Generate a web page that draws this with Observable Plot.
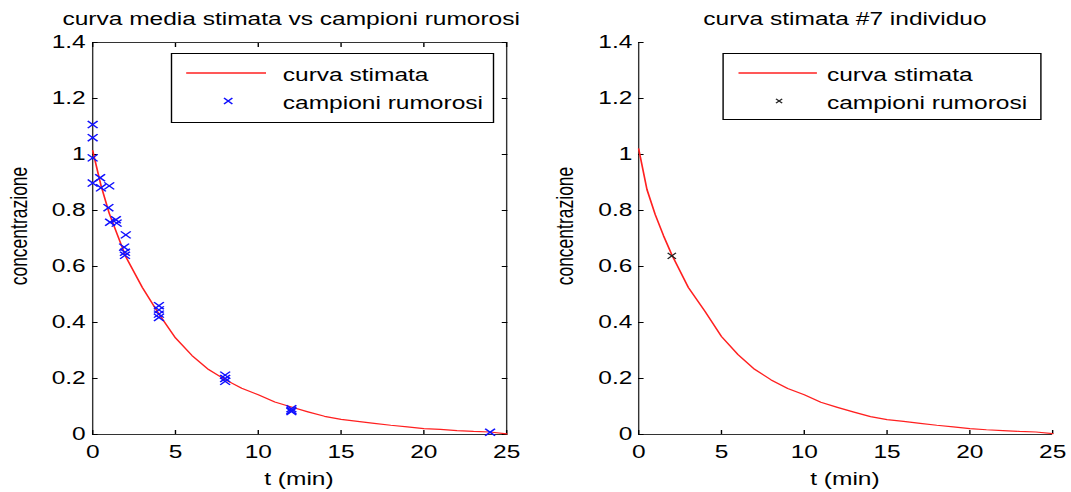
<!DOCTYPE html>
<html>
<head>
<meta charset="utf-8">
<script src="https://cdn.jsdelivr.net/npm/d3@7"></script>
<script src="https://cdn.jsdelivr.net/npm/@observablehq/plot@0.6"></script>
<style>
html, body { margin: 0; padding: 0; background: #fff; }
#stage { position: relative; width: 1071px; height: 492px; overflow: hidden; background: #fff; }
#wrap { position: absolute; left: 0; top: 0; width: 765px; height: 492px; transform: scaleX(1.4); transform-origin: 0 0;
  font-family: "Liberation Sans", Arial, sans-serif; font-size: 17.5px; color: #000; }
.svgbox { position: absolute; top: 0; }
.title, .xlabel { position: absolute; text-align: center; line-height: 17px; white-space: nowrap; }
.ylabel { position: absolute; line-height: 17px; white-space: nowrap; transform: translate(-50%, -50%) rotate(-90deg); }
.legend { position: absolute; border: 1px solid #000; background: #fff; box-sizing: border-box; }
.legend .txt { position: absolute; line-height: 17px; white-space: nowrap; }
.legend svg { position: absolute; overflow: visible; }
</style>
</head>
<body>
<div id="stage"><div id="wrap"></div></div>
<script>
// ---- data ----
const xTicks = [0, 5, 10, 15, 20, 25];
const xTickLabels = ["0", "5", "10", "15", "20", "25"];
const yTicks = [0, 0.2, 0.4, 0.6, 0.8, 1, 1.2, 1.4];
const yTickLabels = ["0", "0.2", "0.4", "0.6", "0.8", "1", "1.2", "1.4"];

const curveT     = [0, 0.5, 1, 1.5, 2, 3, 4, 5, 6, 7, 8, 9, 10, 11, 12, 13, 14, 15, 16, 17, 18, 19, 20, 21, 22, 23, 24, 25];
const curveMean  = [1.014, 0.89, 0.79, 0.712, 0.635, 0.525, 0.43, 0.345, 0.282, 0.232, 0.196, 0.165, 0.142, 0.116, 0.098, 0.081, 0.065, 0.054, 0.047, 0.04, 0.033, 0.027, 0.021, 0.018, 0.014, 0.011, 0.009, 0.002];
const curveInd7  = [1.02, 0.875, 0.785, 0.71, 0.642, 0.525, 0.44, 0.35, 0.285, 0.233, 0.195, 0.164, 0.142, 0.115, 0.097, 0.08, 0.064, 0.053, 0.047, 0.04, 0.033, 0.027, 0.021, 0.017, 0.014, 0.011, 0.009, 0.003];

const sampleT = [0, 0, 0, 0, 0.45, 0.5, 1, 0.95, 1.05, 1.4, 1.45, 2, 1.9, 1.95, 1.95, 4, 4, 4, 4, 8, 8, 8, 12, 12, 12, 24];
const sampleC = [1.107, 1.06, 0.988, 0.898, 0.917, 0.881, 0.888, 0.81, 0.758, 0.767, 0.755, 0.713, 0.669, 0.651, 0.64, 0.46, 0.445, 0.43, 0.418, 0.212, 0.2, 0.19, 0.092, 0.086, 0.082, 0.008];

const ind7T = [2];
const ind7C = [0.638];

const titles = ["curva media stimata vs campioni rumorosi", "curva stimata #7 individuo"];
const xLabel = "t (min)";
const yLabel = "concentrazione";
const legendLabels = ["curva stimata", "campioni rumorosi"];

// ---- helpers ----
const font = '"Liberation Sans", Arial, sans-serif';
const fmtX = d => xTickLabels[xTicks.indexOf(d)];
const fmtY = d => yTickLabels[yTicks.indexOf(d)];
const toRows = (xs, ys) => xs.map((t, i) => ({t, c: ys[i]}));
const RED = "#ff2020";
const BLUE = "#1010ff";
const AX = "#333";

const meanRows = toRows(curveT, curveMean);
const ind7Rows = toRows(curveT, curveInd7);
const sampleRows = toRows(sampleT, sampleC);
const ind7SampleRows = toRows(ind7T, ind7C);

const wrap = document.getElementById("wrap");

function place(el, left) {
  const box = document.createElement("div");
  box.className = "svgbox";
  box.style.left = left + "px";
  box.appendChild(el);
  wrap.appendChild(box);
}

const common = {
  height: 492, marginTop: 42, marginBottom: 58,
  style: {fontFamily: font, fontSize: "17.5px", background: "none", color: "#000", overflow: "visible"},
  x: {domain: [0, 25]},
  y: {domain: [0, 1.4]}
};

const p1 = Plot.plot({
  ...common,
  width: 383, marginLeft: 65.7, marginRight: 21.6,
  marks: [
    Plot.frame({stroke: AX}),
    Plot.axisX(xTicks, {anchor: "bottom", tickSize: -4, tickPadding: 15, tickFormat: fmtX, label: null}),
    Plot.axisY(yTicks, {anchor: "left", tickSize: -4, tickPadding: 9, tickFormat: fmtY, label: null}),
    Plot.axisX(xTicks, {anchor: "top", tickSize: -4, tickFormat: () => "", label: null}),
    Plot.axisY(yTicks, {anchor: "right", tickSize: -4, tickFormat: () => "", label: null}),
    Plot.line(meanRows, {x: "t", y: "c", stroke: RED, strokeWidth: 1.2}),
    Plot.dot(sampleRows, {x: "t", y: "c", symbol: "times", r: 3.3, stroke: BLUE, strokeWidth: 1.25})
  ]
});
place(p1, 0);

const p2 = Plot.plot({
  ...common,
  width: 382, marginLeft: 72.7, marginRight: 13.6,
  marks: [
    Plot.ruleX([0], {stroke: AX}),
    Plot.ruleY([0], {stroke: AX}),
    Plot.axisX(xTicks, {anchor: "bottom", tickSize: -4, tickPadding: 15, tickFormat: fmtX, label: null}),
    Plot.axisY(yTicks, {anchor: "left", tickSize: -4, tickPadding: 8.5, tickFormat: fmtY, label: null}),
    Plot.line(ind7Rows, {x: "t", y: "c", stroke: RED, strokeWidth: 1.2}),
    Plot.dot(ind7SampleRows, {x: "t", y: "c", symbol: "times", r: 2.8, stroke: "#222", strokeWidth: 1.1})
  ]
});
place(p2, 383);

// ---- titles and axis labels ----
function addDiv(cls, text, css) {
  const d = document.createElement("div");
  d.className = cls;
  d.textContent = text;
  Object.assign(d.style, css);
  wrap.appendChild(d);
  return d;
}
addDiv("title", titles[0], {left: "0px", width: "416px", top: "11px"});
addDiv("title", titles[1], {left: "455.7px", width: "295.7px", top: "11px"});
addDiv("xlabel", xLabel, {left: "65.7px", width: "295.7px", top: "471px"});
addDiv("xlabel", xLabel, {left: "455.7px", width: "295.7px", top: "471px"});
addDiv("ylabel", yLabel, {left: "13.5px", top: "226px"});
addDiv("ylabel", yLabel, {left: "403.5px", top: "226px"});

// ---- legends ----
function legend(left, width, height, markerColor, textLeft, lineL, lineR, markX, markR) {
  const L = document.createElement("div");
  L.className = "legend";
  Object.assign(L.style, {left: left + "px", top: "53px", width: width + "px", height: height + "px"});
  const ns = "http://www.w3.org/2000/svg";
  const s = document.createElementNS(ns, "svg");
  s.setAttribute("width", width); s.setAttribute("height", height);
  s.style.left = "0px"; s.style.top = "0px";
  const ln = document.createElementNS(ns, "line");
  ln.setAttribute("x1", lineL); ln.setAttribute("x2", lineR);
  ln.setAttribute("y1", 19); ln.setAttribute("y2", 19);
  ln.setAttribute("stroke", RED); ln.setAttribute("stroke-width", 1.4);
  s.appendChild(ln);
  const p = document.createElementNS(ns, "path");
  const cy = 47, r = markR;
  p.setAttribute("d", `M${markX - r},${cy - r}L${markX + r},${cy + r}M${markX - r},${cy + r}L${markX + r},${cy - r}`);
  p.setAttribute("stroke", markerColor); p.setAttribute("stroke-width", 1.1);
  s.appendChild(p);
  L.appendChild(s);
  [0, 1].forEach(i => {
    const t = document.createElement("div");
    t.className = "txt";
    t.textContent = legendLabels[i];
    t.style.left = textLeft + "px";
    t.style.top = (i === 0 ? 13 : 41) + "px";
    L.appendChild(t);
  });
  wrap.appendChild(L);
}
legend(122, 230.5, 70, BLUE, 79, 10, 67, 40, 3);
legend(515.7, 228.6, 67, "#222", 74, 10.5, 66.5, 39.5, 2.2);
</script>
</body>
</html>
